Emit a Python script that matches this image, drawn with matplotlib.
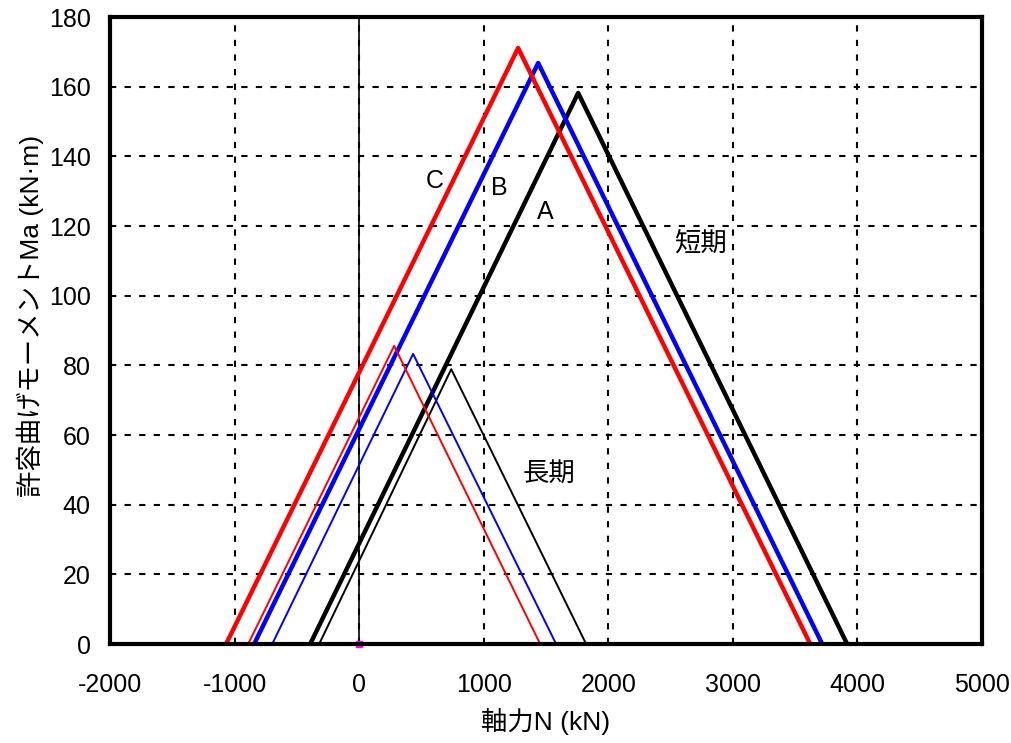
import matplotlib
matplotlib.use("Agg")
import matplotlib.pyplot as plt

plt.rcParams['font.family'] = ['Liberation Sans', 'Noto Sans CJK JP', 'DejaVu Sans']
plt.rcParams['axes.unicode_minus'] = False

# short-term (thick) and long-term (thin) interaction lines: N (kN), Ma (kN.m)
short_C_N = [-1068, 1276, 3621]
short_C_M = [0, 171.1, 0]
short_B_N = [-843, 1437, 3717]
short_B_M = [0, 166.8, 0]
short_A_N = [-393, 1758, 3917]
short_A_M = [0, 158.2, 0]

long_C_N = [-891, 281, 1453]
long_C_M = [0, 85.6, 0]
long_B_N = [-698, 433, 1581]
long_B_M = [0, 83.3, 0]
long_A_N = [-321, 739, 1822]
long_A_M = [0, 78.9, 0]

xticks = [-2000, -1000, 0, 1000, 2000, 3000, 4000, 5000]
yticks = [0, 20, 40, 60, 80, 100, 120, 140, 160, 180]

fig = plt.figure(figsize=(10.12, 7.43), dpi=100)
ax = fig.add_axes([0.1087, 0.1332, 0.8617, 0.8439])

ax.grid(True, color='black', linestyle=(0, (3, 4)), linewidth=1.5)
ax.axvline(0, color='black', linewidth=1.2)

ax.plot(short_A_N, short_A_M, color='black', linewidth=3.2)
ax.plot(short_B_N, short_B_M, color='#0000ff', linewidth=3.2)
ax.plot(short_C_N, short_C_M, color='#ff0000', linewidth=3.2)
ax.plot(long_A_N, long_A_M, color='black', linewidth=1.4)
ax.plot(long_B_N, long_B_M, color='#0000ff', linewidth=1.4)
ax.plot(long_C_N, long_C_M, color='#ff0000', linewidth=1.4)
ax.plot([0], [0], marker='s', color='magenta', markersize=4, clip_on=False)

ax.text(605, 133, 'C', fontsize=18, ha='center', va='center')
ax.text(1125, 131, 'B', fontsize=18, ha='center', va='center')
ax.text(1490, 124, 'A', fontsize=18, ha='center', va='center')
ax.text(2740, 115, '短期', fontsize=19, ha='center', va='center')
ax.text(1520, 49, '長期', fontsize=19, ha='center', va='center')

ax.set_xlim(-2000, 5000)
ax.set_ylim(0, 180)
ax.set_xticks(xticks)
ax.set_yticks(yticks)
ax.tick_params(labelsize=18, length=0)
ax.tick_params(axis='x', pad=21)
ax.tick_params(axis='y', pad=14)
for s in ax.spines.values():
    s.set_linewidth(3)

ax.set_xlabel('軸力N (kN)', fontsize=19, labelpad=8)
ax.set_ylabel('許容曲げモーメントMa (kN·m)', fontsize=19, labelpad=5)
ax.yaxis.set_label_coords(-0.076, 0.523)

fig.savefig('out.png', dpi=100)
